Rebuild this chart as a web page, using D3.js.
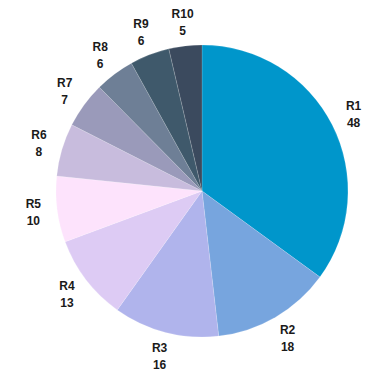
<!DOCTYPE html>
<html>
<head>
<meta charset="utf-8">
<script src="https://cdn.jsdelivr.net/npm/d3@7"></script>
<style>
  body { margin: 0; background: #fff; }
</style>
</head>
<body>
<div id="vis"></div>
<script>
var w = 383;
var h = 387;

var regions = ['R1', 'R2', 'R3', 'R4', 'R5', 'R6', 'R7', 'R8', 'R9', 'R10'];
var counts = [48, 18, 16, 13, 10, 8, 7, 6, 6, 5];
var colors = ['#0096cb', '#77a5de', '#b0b4ec', '#ddcbf4', '#fde3fc',
              '#c8bcdd', '#9a9aba', '#6e7f96', '#3f596b', '#3b4a5e'];

var cx = 202, cy = 191, r = 146, labelR = 170;

var svg = d3.select('#vis')
  .append('svg')
    .attr('width', w)
    .attr('height', h);

var pie = d3.pie()
  .sort(null)
  .value(function(d) { return d; });

var arc = d3.arc()
  .innerRadius(0)
  .outerRadius(r);

var labelArc = d3.arc()
  .innerRadius(labelR)
  .outerRadius(labelR);

var g = svg.append('g')
  .attr('transform', 'translate(' + cx + ',' + cy + ')');

var slices = pie(counts);

g.selectAll('path')
  .data(slices)
  .enter()
  .append('path')
    .attr('d', arc)
    .style('fill', function(d, i) { return colors[i]; })
    .style('stroke', 'rgba(255,255,255,0.5)')
    .style('stroke-width', 0.3);

var labels = g.selectAll('text.lbl')
  .data(slices)
  .enter()
  .append('text')
    .attr('class', 'lbl')
    .attr('text-anchor', 'middle')
    .style('font-family', 'Liberation Sans, Arial, sans-serif')
    .style('font-weight', 'bold')
    .style('font-size', '12px')
    .style('fill', '#1a1a1a')
    .attr('transform', function(d) {
      var c = labelArc.centroid(d);
      return 'translate(' + c[0] + ',' + c[1] + ')';
    });

labels.append('tspan')
  .attr('x', 0)
  .attr('y', -4)
  .text(function(d, i) { return regions[i]; });

labels.append('tspan')
  .attr('x', 0)
  .attr('y', 13)
  .text(function(d) { return d.data; });
</script>
</body>
</html>
